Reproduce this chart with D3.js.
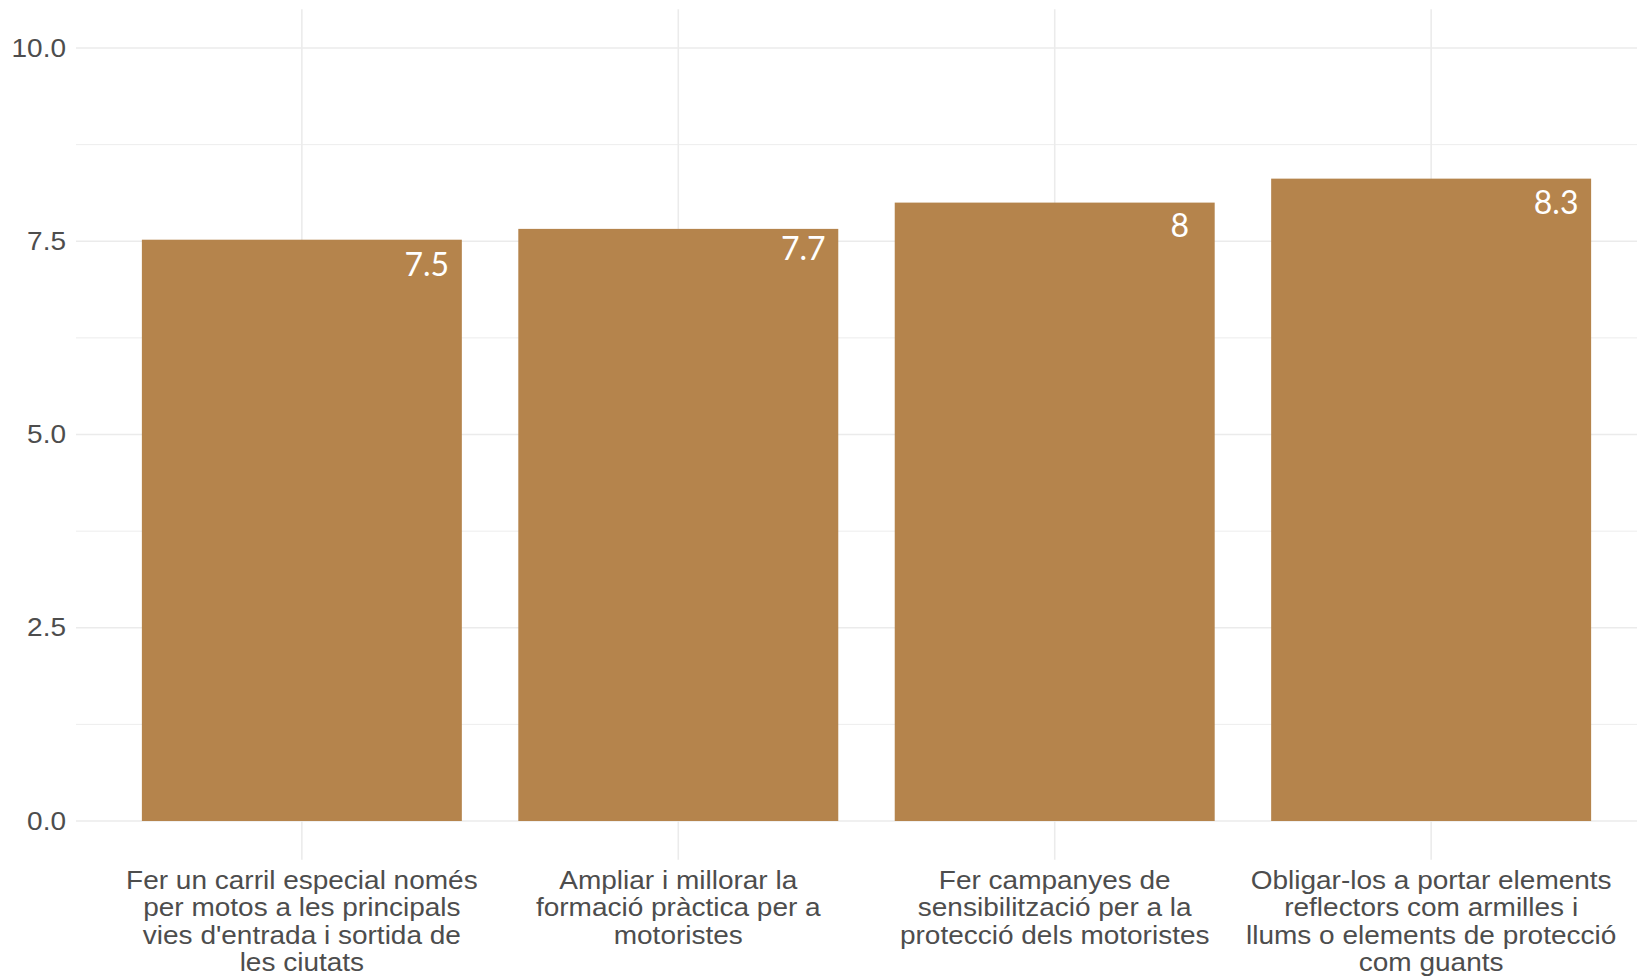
<!DOCTYPE html>
<html>
<head>
<meta charset="utf-8">
<script src="https://cdn.jsdelivr.net/npm/d3@7"></script>
<style>
  html, body { margin: 0; padding: 0; background: #ffffff; }
  svg { display: block; }
</style>
</head>
<body>
<svg id="chart" width="1637" height="976"></svg>
<script>
// ---- data ----
const categories = [
  "Fer un carril especial només per motos a les principals vies d'entrada i sortida de les ciutats",
  "Ampliar i millorar la formació pràctica per a motoristes",
  "Fer campanyes de sensibilització per a la protecció dels motoristes",
  "Obligar-los a portar elements reflectors com armilles i llums o elements de protecció com guants"
];
const categoryLines = [
  ["Fer un carril especial només", "per motos a les principals", "vies d'entrada i sortida de", "les ciutats"],
  ["Ampliar i millorar la", "formació pràctica per a", "motoristes"],
  ["Fer campanyes de", "sensibilització per a la", "protecció dels motoristes"],
  ["Obligar-los a portar elements", "reflectors com armilles i", "llums o elements de protecció", "com guants"]
];
const values = [7.52, 7.66, 8.0, 8.31];
const yTicks = [0, 2.5, 5, 7.5, 10];
const yMinorTicks = [1.25, 3.75, 6.25, 8.75];

// ---- layout ----
const panel = { left: 76, right: 1657, top: 9.35, bottom: 859.65 };
const stretch = 1.12;
const svg = d3.select("#chart");

const x = d3.scalePoint()
  .domain(categories)
  .range([panel.left, panel.right])
  .padding(0.6);
const step = x.step();
const barW = step * 0.85;

const y = d3.scaleLinear()
  .domain([-0.5, 10.5])
  .range([panel.bottom, panel.top]);

const gridColor = "#ebebeb";

// minor horizontal grid
svg.append("g").selectAll("line").data(yMinorTicks).join("line")
  .attr("x1", panel.left).attr("x2", panel.right)
  .attr("y1", d => y(d)).attr("y2", d => y(d))
  .attr("stroke", gridColor).attr("stroke-width", 0.9);

// major horizontal grid
svg.append("g").selectAll("line").data(yTicks).join("line")
  .attr("x1", panel.left).attr("x2", panel.right)
  .attr("y1", d => y(d)).attr("y2", d => y(d))
  .attr("stroke", gridColor).attr("stroke-width", 1.6);

// vertical grid
svg.append("g").selectAll("line").data(categories).join("line")
  .attr("x1", d => x(d)).attr("x2", d => x(d))
  .attr("y1", panel.top).attr("y2", panel.bottom)
  .attr("stroke", gridColor).attr("stroke-width", 1.6);

// y axis labels
const yAxis = d3.axisLeft(y).tickValues(yTicks).tickFormat(d3.format(".1f")).tickSize(0).tickPadding(10);
const gy = svg.append("g").attr("transform", `translate(${panel.left},0)`).call(yAxis);
gy.select(".domain").remove();
gy.selectAll("text")
  .attr("x", -10 / stretch)
  .attr("transform", `scale(${stretch},1)`)
  .attr("font-family", "'Liberation Sans', Arial, sans-serif")
  .attr("font-size", 25)
  .attr("fill", "#4d4d4d");

// bars
svg.append("g").selectAll("rect").data(values).join("rect")
  .attr("x", (d, i) => x(categories[i]) - barW / 2)
  .attr("width", barW)
  .attr("y", d => y(d))
  .attr("height", d => y(0) - y(d))
  .attr("fill", "#b5844c");

// value labels
svg.append("g").selectAll("text").data(values).join("text")
  .attr("x", (d, i) => x(categories[i]) + barW / 2 - 35)
  .attr("y", d => y(+d.toFixed(1)) + 34.5)
  .attr("text-anchor", "middle")
  .attr("font-family", "Lato, 'Open Sans', sans-serif")
  .attr("font-size", 32)
  .attr("fill", "#ffffff")
  .text(d => String(+d.toFixed(1)));

// x axis labels
const xl = svg.append("g");
categories.forEach((c, i) => {
  const t = xl.append("g")
    .attr("transform", `translate(${x(c)},889) scale(${stretch},1)`)
    .append("text")
    .attr("x", 0)
    .attr("y", 0)
    .attr("text-anchor", "middle")
    .attr("font-family", "'Liberation Sans', Arial, sans-serif")
    .attr("font-size", 25)
    .attr("fill", "#4d4d4d");
  categoryLines[i].forEach((ln, j) => {
    t.append("tspan").attr("x", 0).attr("dy", j === 0 ? 0 : 27.5).text(ln);
  });
});
</script>
</body>
</html>
